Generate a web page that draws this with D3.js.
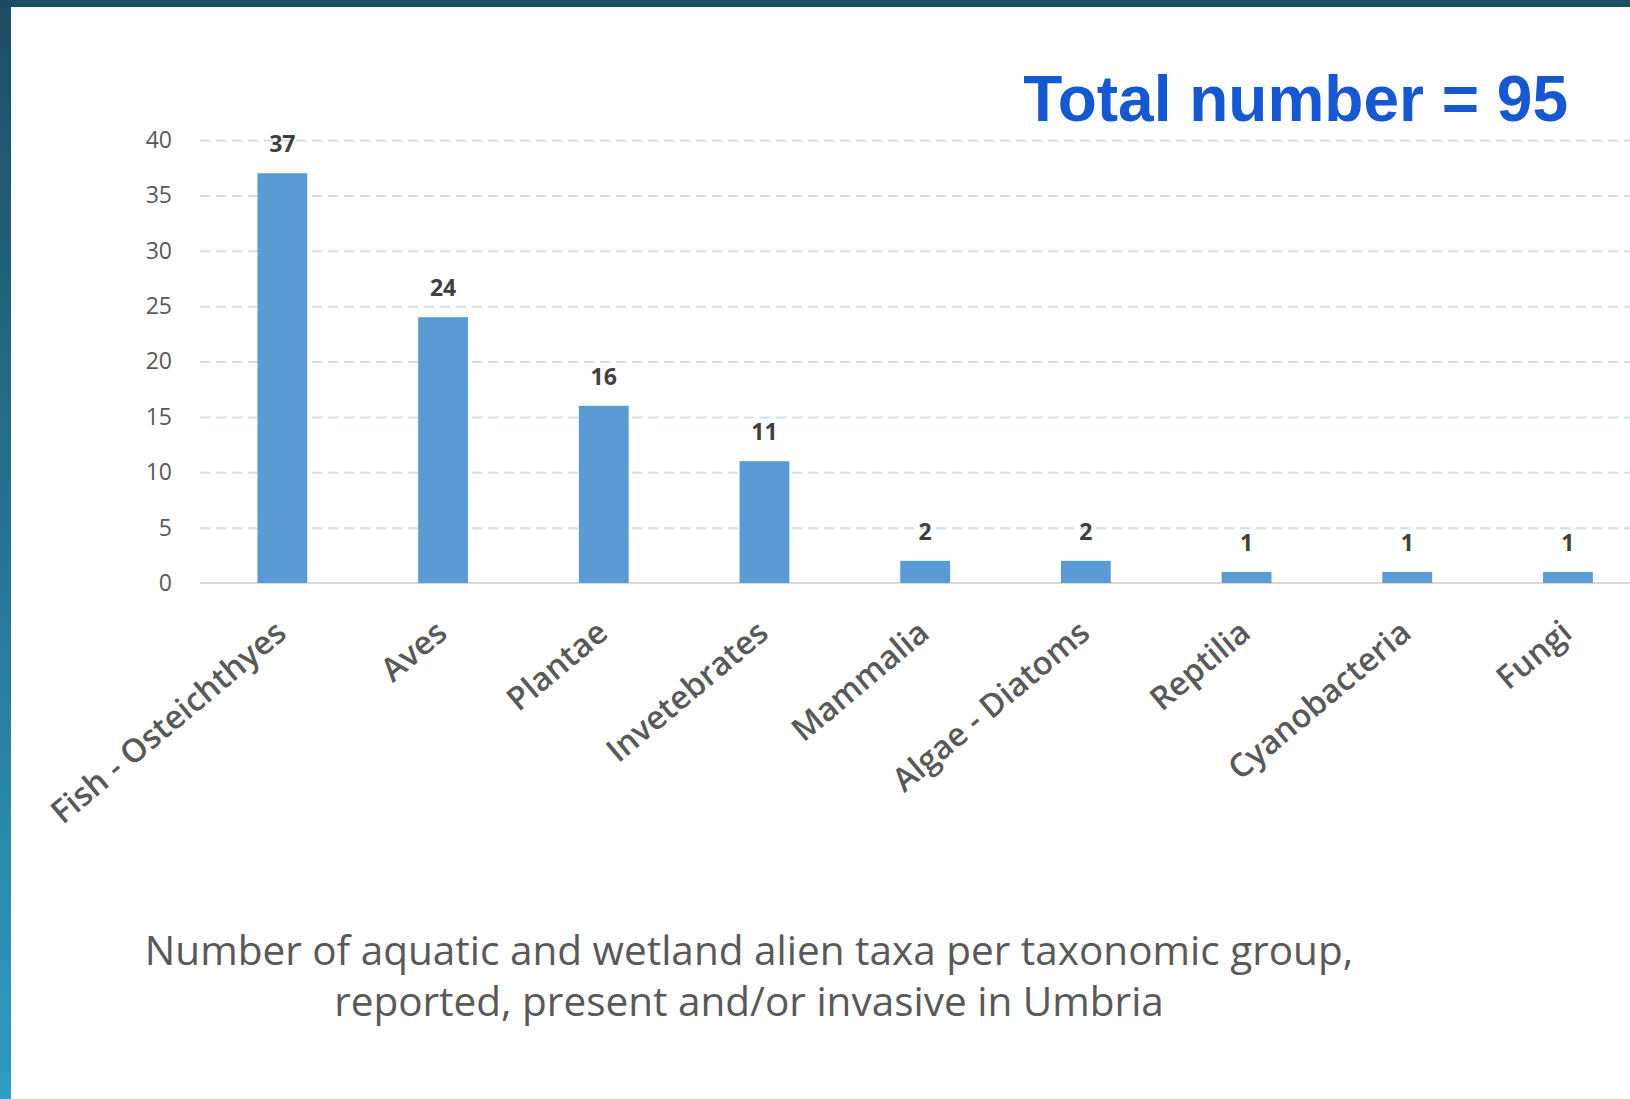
<!DOCTYPE html>
<html lang="en">
<head>
    <meta charset="UTF-8">
    <title>Aquatic and wetland alien taxa in Umbria</title>
    <script src="https://d3js.org/d3.v7.min.js"></script>
    <style>
        body {
            margin: 0;
            padding: 0;
            background-color: #ffffff;
            overflow: hidden;
        }

        .grid line {
            stroke: #cfdff2;
            stroke-width: 2;
            stroke-dasharray: 10, 6;
        }

        .grid path {
            display: none;
        }
    </style>
</head>
<body>
    <div id="chart"></div>

    <script>
    // Chart data
    const categories = ["Fish - Osteichthyes", "Aves", "Plantae", "Invetebrates", "Mammalia",
        "Algae - Diatoms", "Reptilia", "Cyanobacteria", "Fungi"];
    const counts = [37, 24, 16, 11, 2, 2, 1, 1, 1];
    const yTicks = [0, 5, 10, 15, 20, 25, 30, 35, 40];
    const totalLabel = "Total number = 95";
    const captionLines = [
        "Number of aquatic and wetland alien taxa per taxonomic group,",
        "reported, present and/or invasive in Umbria"
    ];

    const STYLES = {
        barColor: "#5b9bd5",
        axisColor: "#d9d9d9",
        textColor: "#595959",
        labelColor: "#404040",
        titleColor: "#1558cf"
    };

    const W = 1630, H = 1099;
    const plot = { left: 200, top: 140, bottom: 583, bandStart: 202, step: 160.7 };

    const svg = d3.select("#chart")
        .append("svg")
        .attr("width", W)
        .attr("height", H)
        .style("display", "block");

    // slide frame
    const defs = svg.append("defs");
    const grad = defs.append("linearGradient")
        .attr("id", "sideGrad")
        .attr("x1", 0).attr("y1", 0).attr("x2", 0).attr("y2", 1);
    grad.append("stop").attr("offset", "0%").attr("stop-color", "#1c4d64");
    grad.append("stop").attr("offset", "100%").attr("stop-color", "#2f9cc3");

    svg.append("rect").attr("width", W).attr("height", H).attr("fill", "#ffffff");
    svg.append("rect").attr("x", 0).attr("y", 0).attr("width", W).attr("height", 7).attr("fill", "#1d4f66");
    svg.append("rect").attr("x", 0).attr("y", 0).attr("width", 11).attr("height", H).attr("fill", "url(#sideGrad)");

    const x = d3.scaleBand()
        .domain(categories)
        .range([plot.bandStart, plot.bandStart + plot.step * categories.length])
        .padding(0);

    const y = d3.scaleLinear()
        .domain([0, 40])
        .range([plot.bottom, plot.top]);

    // dashed grid lines
    svg.append("g")
        .attr("class", "grid")
        .attr("transform", `translate(${plot.left},0)`)
        .call(d3.axisLeft(y)
            .tickValues(yTicks.filter(d => d > 0))
            .tickSize(-(W - plot.left))
            .tickFormat(""));

    // baseline
    svg.append("line")
        .attr("x1", plot.left)
        .attr("x2", W)
        .attr("y1", y(0))
        .attr("y2", y(0))
        .attr("stroke", STYLES.axisColor)
        .attr("stroke-width", 2);

    // y tick labels
    const yAxis = svg.append("g")
        .attr("transform", `translate(${plot.left},0)`)
        .call(d3.axisLeft(y).tickValues(yTicks).tickSize(0).tickPadding(28));
    yAxis.select(".domain").remove();
    yAxis.selectAll("text")
        .attr("fill", STYLES.textColor)
        .style("font-family", "'Open Sans', sans-serif")
        .style("font-size", "23px");

    // bars
    const barW = x.bandwidth() * 0.31;
    svg.selectAll(".bar")
        .data(counts)
        .enter()
        .append("rect")
        .attr("class", "bar")
        .attr("x", (d, i) => x(categories[i]) + x.bandwidth() / 2 - barW / 2)
        .attr("y", d => y(d))
        .attr("width", barW)
        .attr("height", d => y(0) - y(d))
        .attr("fill", STYLES.barColor);

    // value labels
    svg.selectAll(".value")
        .data(counts)
        .enter()
        .append("text")
        .attr("class", "value")
        .attr("x", (d, i) => x(categories[i]) + x.bandwidth() / 2)
        .attr("y", d => y(d) - 21)
        .attr("text-anchor", "middle")
        .attr("fill", STYLES.labelColor)
        .style("font-family", "'Open Sans', sans-serif")
        .style("font-weight", "700")
        .style("font-size", "23px")
        .text(d => d);

    // rotated category labels
    svg.selectAll(".cat")
        .data(categories)
        .enter()
        .append("text")
        .attr("class", "cat")
        .attr("text-anchor", "end")
        .attr("transform", d => `translate(${x(d) + x.bandwidth() / 2 + 6},636) rotate(-40)`)
        .attr("fill", STYLES.textColor)
        .style("font-family", "'Open Sans', sans-serif")
        .style("font-weight", "600")
        .style("font-size", "32.5px")
        .text(d => d);

    // total
    svg.append("text")
        .attr("x", 1568)
        .attr("y", 121)
        .attr("text-anchor", "end")
        .attr("fill", STYLES.titleColor)
        .style("font-family", "'Liberation Sans', Arial, sans-serif")
        .style("font-weight", "700")
        .style("font-size", "64px")
        .text(totalLabel);

    // caption
    svg.selectAll(".caption")
        .data(captionLines)
        .enter()
        .append("text")
        .attr("class", "caption")
        .attr("x", 749)
        .attr("y", (d, i) => 965 + i * 51)
        .attr("text-anchor", "middle")
        .attr("fill", STYLES.textColor)
        .style("font-family", "'Open Sans', sans-serif")
        .style("font-size", "40.5px")
        .text(d => d);
    </script>
</body>
</html>
